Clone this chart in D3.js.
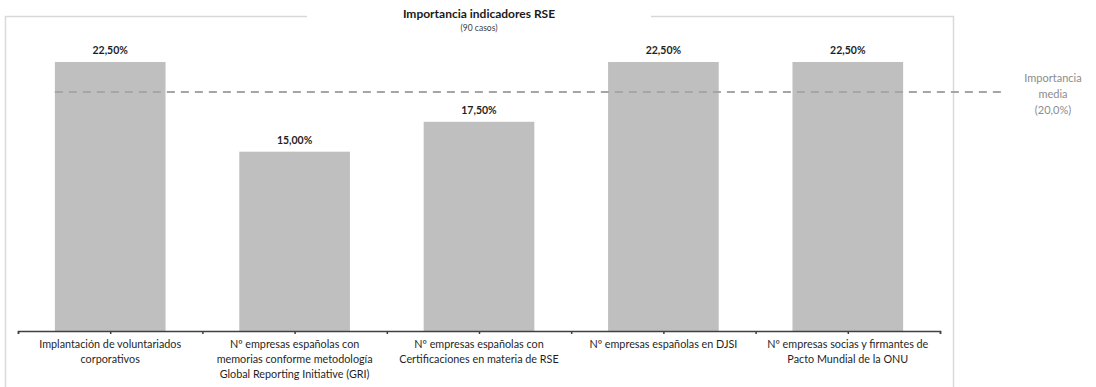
<!DOCTYPE html>
<html><head><meta charset="utf-8">
<script src="https://cdn.jsdelivr.net/npm/d3@7"></script>
<style>body{margin:0;background:#fff}svg{display:block}text{font-family:Lato,"Open Sans",sans-serif}</style>
</head><body><svg id="c" width="1096" height="387"></svg>
<script>
const categories = [
  ["Implantación de voluntariados", "corporativos"],
  ["Nº empresas españolas con", "memorias conforme metodología", "Global Reporting Initiative (GRI)"],
  ["Nº empresas  españolas con", "Certificaciones en materia de RSE"],
  ["Nº empresas españolas en DJSI"],
  ["Nº empresas socias y firmantes de", "Pacto Mundial de la ONU"]
];
const values = [22.5, 15.0, 17.5, 22.5, 22.5];
const valueLabels = ["22,50%", "15,00%", "17,50%", "22,50%", "22,50%"];
const meanValue = 20.0;
const meanLabel = ["Importancia", "media", "(20,0%)"];
const title = "Importancia indicadores RSE";
const subtitle = "(90 casos)";

const svg = d3.select("#c");
const left = 18, right = 940, axisY = 331;
const ids = d3.range(categories.length);
const x = d3.scaleBand().domain(ids).range([left, right]).paddingInner(0.4).paddingOuter(0.2);
const y = d3.scaleLinear().domain([0, 22.5]).range([axisY, 62]);

// frame
const frame = svg.append("g").attr("stroke", "#d9d9d9").attr("stroke-width", 1.5).attr("fill", "none");
frame.append("path").attr("d", "M5.5,387 V16.5 H307");
frame.append("path").attr("d", "M651,16.5 H953.5 V387");

// title
svg.append("text").attr("x", 479).attr("y", 18).attr("text-anchor", "middle")
  .attr("font-size", 12).attr("font-weight", "bold").attr("fill", "#1a1a1a").text(title);
svg.append("text").attr("x", 479).attr("y", 31).attr("text-anchor", "middle")
  .attr("font-size", 8.5).attr("fill", "#404040").text(subtitle);

// bars
svg.append("g").selectAll("rect").data(values).join("rect")
  .attr("x", (d, i) => x(i)).attr("width", x.bandwidth())
  .attr("y", d => y(d)).attr("height", d => axisY - y(d))
  .attr("fill", "#bfbfbf");

// value labels
svg.append("g").selectAll("text").data(values).join("text")
  .attr("x", (d, i) => x(i) + x.bandwidth() / 2).attr("y", d => y(d) - 8)
  .attr("text-anchor", "middle").attr("font-size", 10.5).attr("font-weight", "bold")
  .attr("fill", "#1f1f1f").text((d, i) => valueLabels[i]);

// mean line
svg.append("line").attr("x1", x(0)).attr("x2", 1002)
  .attr("y1", y(meanValue)).attr("y2", y(meanValue))
  .attr("stroke", "#a6a6a6").attr("stroke-width", 2).attr("stroke-dasharray", "8,6");
svg.append("g").selectAll("text").data(meanLabel).join("text")
  .attr("x", 1053).attr("y", (d, i) => 82 + i * 16).attr("text-anchor", "middle")
  .attr("font-size", 11).attr("fill", "#8c8c8c").text(d => d);

// axis with ticks at boundaries and centers
const tickScale = d3.scaleLinear().domain([0, categories.length]).range([left, right]);
const axis = d3.axisBottom(tickScale).tickValues(d3.range(0, categories.length + 0.01, 0.5))
  .tickSize(3).tickSizeOuter(3).tickFormat("");
const ag = svg.append("g").attr("transform", `translate(0,${axisY})`).call(axis);
ag.select(".domain").attr("stroke", "#404040").attr("stroke-width", 1.5);
ag.selectAll(".tick line").attr("stroke", "#404040").attr("stroke-width", 1.5);

// category labels
const cg = svg.append("g").selectAll("text").data(categories).join("text")
  .attr("text-anchor", "middle").attr("font-size", 10.8).attr("fill", "#1f1f1f");
cg.each(function(lines, i) {
  d3.select(this).selectAll("tspan").data(lines).join("tspan")
    .attr("x", x(i) + x.bandwidth() / 2).attr("y", (d, j) => 348 + j * 15).text(d => d);
});
</script></body></html>
